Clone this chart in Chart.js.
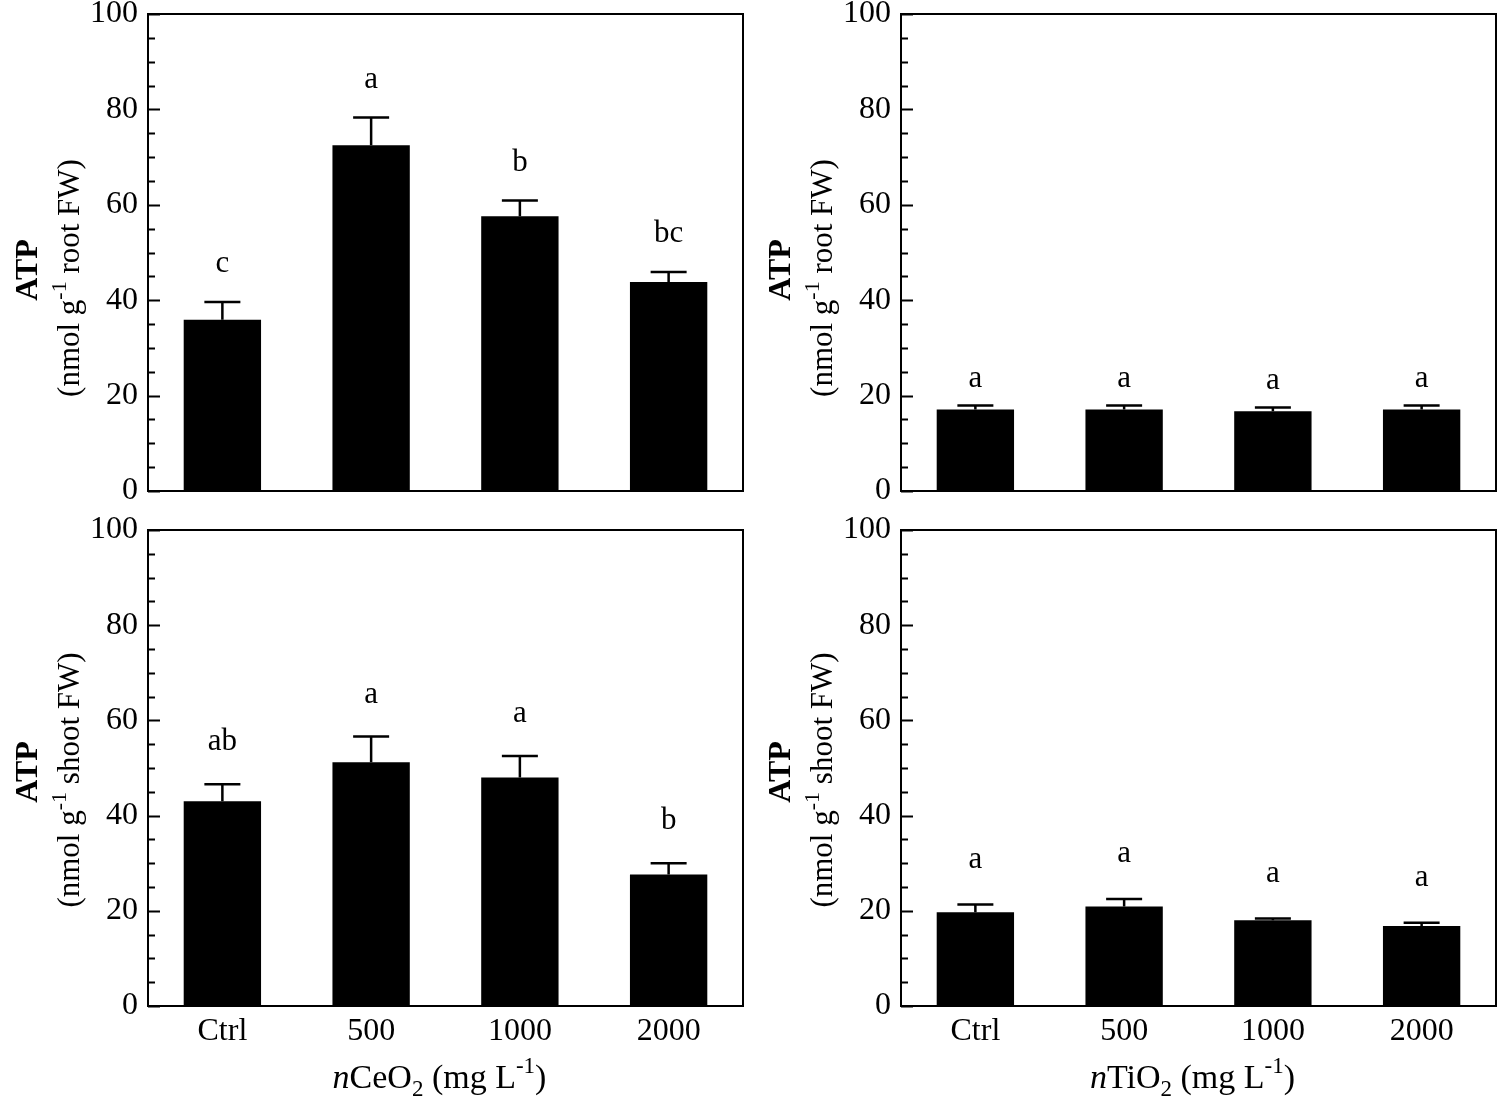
<!DOCTYPE html>
<html lang="en">
<head>
    <meta charset="UTF-8">
    <title>ATP in roots and shoots</title>
    <script src="https://cdn.jsdelivr.net/npm/chart.js"></script>
    <style>
        body { margin: 0; background: #fff; }
        #wrap { position: relative; width: 1506px; height: 1099px; background: #fff; }
        .panel { position: absolute; }
    </style>
</head>
<body>
<div id="wrap">
    <div class="panel" style="left:0;top:0"><canvas id="rootCe" width="753" height="510"></canvas></div>
    <div class="panel" style="left:753px;top:0"><canvas id="rootTi" width="753" height="510"></canvas></div>
    <div class="panel" style="left:0;top:510px"><canvas id="shootCe" width="753" height="589"></canvas></div>
    <div class="panel" style="left:753px;top:510px"><canvas id="shootTi" width="753" height="589"></canvas></div>
</div>

<script>
    // categories and y axis labels
    const groups = ['Ctrl', '500', '1000', '2000'];
    const yTickLabels = [0, 20, 40, 60, 80, 100];

    // root ATP, nCeO2
    const rootCeMean = [35.9, 72.5, 57.6, 43.8];
    const rootCeErr = [3.7, 5.8, 3.3, 2.1];
    const rootCeSig = ['c', 'a', 'b', 'bc'];

    // root ATP, nTiO2
    const rootTiMean = [17.1, 17.1, 16.7, 17.1];
    const rootTiErr = [0.8, 0.8, 0.8, 0.8];
    const rootTiSig = ['a', 'a', 'a', 'a'];

    // shoot ATP, nCeO2
    const shootCeMean = [43.0, 51.2, 48.0, 27.6];
    const shootCeErr = [3.6, 5.4, 4.5, 2.4];
    const shootCeSig = ['ab', 'a', 'a', 'b'];

    // shoot ATP, nTiO2
    const shootTiMean = [19.7, 20.9, 18.0, 16.8];
    const shootTiErr = [1.6, 1.6, 0.4, 0.7];
    const shootTiSig = ['a', 'a', 'a', 'a'];

    const SERIF = "'Liberation Serif', 'Times New Roman', serif";
    Chart.defaults.font.family = SERIF;
    Chart.defaults.color = '#000';

    // draw a row of text pieces (for sub/superscripts), centred on cx, baseline at y
    function drawRich(ctx, parts, cx, y) {
        let total = 0;
        parts.forEach(p => { ctx.font = p.font; p.w = ctx.measureText(p.t).width; total += p.w; });
        let x = cx - total / 2;
        ctx.textAlign = 'left';
        ctx.textBaseline = 'alphabetic';
        parts.forEach(p => { ctx.font = p.font; ctx.fillText(p.t, x, y + (p.dy || 0)); x += p.w; });
    }

    function makePanel(id, p) {
        const deco = {
            id: 'deco',
            afterDatasetsDraw(chart) {
                const ctx = chart.ctx;
                const a = chart.chartArea;
                const ys = chart.scales.y;
                const meta = chart.getDatasetMeta(0);
                ctx.save();
                ctx.fillStyle = '#000';
                ctx.strokeStyle = '#000';

                // error bars (upper whisker only) and letters
                ctx.lineWidth = 2.5;
                p.mean.forEach((m, i) => {
                    const x = meta.data[i].x;
                    const yb = ys.getPixelForValue(m);
                    const yt = ys.getPixelForValue(m + p.err[i]);
                    ctx.beginPath();
                    ctx.moveTo(x, yb);
                    ctx.lineTo(x, yt);
                    ctx.moveTo(x - 18, yt);
                    ctx.lineTo(x + 18, yt);
                    ctx.stroke();
                    ctx.font = '31px ' + SERIF;
                    ctx.textAlign = 'center';
                    ctx.textBaseline = 'middle';
                    ctx.fillText(p.sig[i], x, yt - p.gap);
                });

                // frame
                ctx.lineWidth = 2;
                ctx.strokeRect(a.left, a.top, a.right - a.left, a.bottom - a.top);

                // inward ticks on the left axis
                ctx.beginPath();
                for (let v = 0; v <= 100; v += 5) {
                    const y = Math.round(ys.getPixelForValue(v)) + 0.5;
                    const len = yTickLabels.includes(v) ? 12 : 7;
                    ctx.moveTo(a.left, y);
                    ctx.lineTo(a.left + len, y);
                }
                ctx.stroke();

                // y title
                ctx.save();
                ctx.translate(37, p.titleY);
                ctx.rotate(-Math.PI / 2);
                drawRich(ctx, [{ t: 'ATP', font: 'bold 32px ' + SERIF }], 0, 0);
                ctx.restore();
                ctx.save();
                ctx.translate(79, p.titleY + 8);
                ctx.rotate(-Math.PI / 2);
                drawRich(ctx, [
                    { t: '(nmol g', font: '31px ' + SERIF },
                    { t: '-1', font: '22px ' + SERIF, dy: -13 },
                    { t: ' ' + p.organ + ' FW)', font: '31px ' + SERIF }
                ], 0, 0);
                ctx.restore();

                // x title
                if (p.xTitle) {
                    drawRich(ctx, [
                        { t: 'n', font: 'italic 34px ' + SERIF },
                        { t: p.xTitle, font: '34px ' + SERIF },
                        { t: '2', font: '23px ' + SERIF, dy: 8 },
                        { t: ' (mg L', font: '34px ' + SERIF },
                        { t: '-1', font: '23px ' + SERIF, dy: -15 },
                        { t: ')', font: '34px ' + SERIF }
                    ], (a.left + a.right) / 2 - 6, 578);
                }
                ctx.restore();
            }
        };

        new Chart(document.getElementById(id), {
            type: 'bar',
            data: {
                labels: groups,
                datasets: [{
                    data: p.mean,
                    backgroundColor: '#000',
                    borderWidth: 0,
                    barPercentage: 0.52,
                    categoryPercentage: 1.0
                }]
            },
            options: {
                responsive: false,
                animation: false,
                layout: { padding: { top: p.top, right: 10, left: 0, bottom: 0 } },
                plugins: { legend: { display: false }, tooltip: { enabled: false } },
                scales: {
                    x: {
                        grid: { display: false, drawTicks: false },
                        border: { display: false },
                        ticks: { display: p.showX, font: { size: 32 }, padding: 6 },
                        afterFit(s) { s.height = p.xHeight; s.paddingLeft = 0; s.paddingRight = 0; }
                    },
                    y: {
                        min: 0,
                        max: 100,
                        grid: { display: false, drawTicks: false },
                        border: { display: false },
                        ticks: {
                            stepSize: 5,
                            autoSkip: false,
                            font: { size: 32 },
                            padding: 10,
                            callback: v => yTickLabels.includes(v) ? v : ''
                        },
                        afterFit(s) { s.width = 148; s.paddingTop = 0; s.paddingBottom = 0; }
                    }
                }
            },
            plugins: [deco]
        });
    }

    makePanel('rootCe', { mean: rootCeMean, err: rootCeErr, sig: rootCeSig, gap: 38,
        top: 14, xHeight: 19, showX: false, organ: 'root', titleY: 270 });
    makePanel('rootTi', { mean: rootTiMean, err: rootTiErr, sig: rootTiSig, gap: 27,
        top: 14, xHeight: 19, showX: false, organ: 'root', titleY: 270 });
    makePanel('shootCe', { mean: shootCeMean, err: shootCeErr, sig: shootCeSig, gap: 42,
        top: 20, xHeight: 93, showX: true, organ: 'shoot', titleY: 262, xTitle: 'CeO' });
    makePanel('shootTi', { mean: shootTiMean, err: shootTiErr, sig: shootTiSig, gap: 45,
        top: 20, xHeight: 93, showX: true, organ: 'shoot', titleY: 262, xTitle: 'TiO' });
</script>
</body>
</html>
